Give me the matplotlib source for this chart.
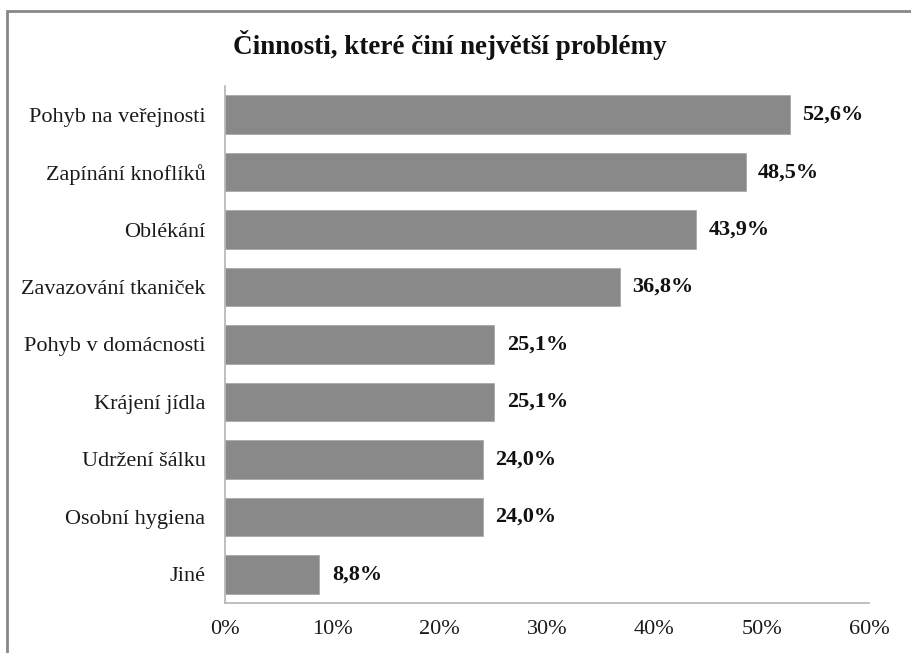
import matplotlib.pyplot as plt
from matplotlib.patches import Rectangle
from matplotlib.ticker import FuncFormatter

categories = ["Pohyb na veřejnosti", "Zapínání knoflíků", "Oblékání",
              "Zavazování tkaniček", "Pohyb v domácnosti", "Krájení jídla",
              "Udržení šálku", "Osobní hygiena", "Jiné"]
values = [52.6, 48.5, 43.9, 36.8, 25.1, 25.1, 24.0, 24.0, 8.8]
x_ticks = [0, 10, 20, 30, 40, 50, 60]

plt.rcParams['font.family'] = ['Liberation Serif', 'DejaVu Serif']

fig = plt.figure(figsize=(9.12, 6.53), dpi=100)
ax = fig.add_axes([0.2467, 0.0766, 0.7062, 0.7917])

pos = list(range(len(categories)))
ax.barh(pos, values, height=0.67, color="#898989", edgecolor="#a8a8a8", linewidth=0.6)
ax.set_ylim(len(categories) - 0.5, -0.5)
ax.set_xlim(0, 60)
ax.set_yticks(pos)
ax.set_yticklabels(categories)
ax.set_xticks(x_ticks)
ax.xaxis.set_major_formatter(FuncFormatter(lambda v, _: "{:.0f}%".format(v)))
ax.tick_params(axis='y', length=0, pad=14, labelsize=16, labelcolor="#1a1a1a")
ax.tick_params(axis='x', length=0, pad=12, labelsize=16, labelcolor="#1a1a1a")

for s in ['top', 'right']:
    ax.spines[s].set_visible(False)
for s in ['left', 'bottom']:
    ax.spines[s].set_color("#b4b4b4")
    ax.spines[s].set_linewidth(1.2)

for p, v in zip(pos, values):
    ax.annotate("{:.1f}%".format(v).replace(".", ","), xy=(v, p), xytext=(9, 0),
                textcoords="offset points", ha="left", va="center",
                fontsize=16, fontweight="bold", color="#111111")

fig.text(0.493, 0.931, "Činnosti, které činí největší problémy", ha="center", va="center",
         fontsize=19.5, fontweight="bold", color="#111111")

# outer chart frame, continues past the right and bottom edges
fig.patches.append(Rectangle((7 / 912, -0.1), 1.2, (653 - 11) / 653 + 0.1,
                             transform=fig.transFigure, fill=False,
                             edgecolor="#888888", linewidth=2))

fig.savefig("out.png", dpi=100)
